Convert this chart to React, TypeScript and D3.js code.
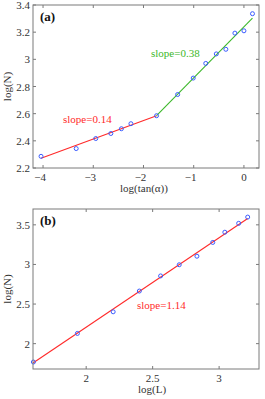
import * as d3 from "d3";

// panel (a): log(tan(alpha)) vs log(N)
const aX = [-4.04, -3.34, -2.95, -2.65, -2.44, -2.25, -1.74, -1.32, -1.01, -0.76, -0.55, -0.36, -0.18, 0.0, 0.17];
const aY = [2.286, 2.343, 2.417, 2.454, 2.489, 2.526, 2.585, 2.741, 2.862, 2.97, 3.04, 3.074, 3.193, 3.21, 3.336];
const aRedFit = [[-4.04, 2.272], [-1.74, 2.585]];
const aGreenFit = [[-1.74, 2.585], [0.17, 3.304]];
const aXTicks = [-4, -3, -2, -1, 0];
const aYTicks = [2.2, 2.4, 2.6, 2.8, 3, 3.2, 3.4];

// panel (b): log(L) vs log(N)
const bX = [1.603, 1.934, 2.203, 2.4, 2.56, 2.7, 2.833, 2.952, 3.043, 3.147, 3.215];
const bY = [1.768, 2.129, 2.402, 2.664, 2.855, 2.996, 3.104, 3.278, 3.407, 3.519, 3.598];
const bFit = [[1.6, 1.755], [3.215, 3.58]];
const bXTicks = [2, 2.5, 3];
const bYTicks = [2, 2.5, 3, 3.5];

const FONT = "'Liberation Serif', 'Times New Roman', serif";
const AXIS = "#7a7a7a";
const TEXT = "#333";
const MARK = "#3a5cff";
const RED = "#ff2a2a";
const GREEN = "#3cb82a";

type PanelProps = {
  top: number;
  bottom: number;
  xDomain: [number, number];
  yDomain: [number, number];
  xTicks: number[];
  yTicks: number[];
  xs: number[];
  ys: number[];
  fits: { pts: number[][]; color: string }[];
  tag: string;
  xLabel: string;
  xLabelX: number;
  notes: { x: number; y: number; text: string; color: string }[];
};

const LEFT = 33;
const RIGHT = 259;

function Panel(p: PanelProps) {
  const x = d3.scaleLinear().domain(p.xDomain).range([LEFT, RIGHT]);
  const y = d3.scaleLinear().domain(p.yDomain).range([p.bottom, p.top]);
  const line = d3.line<number[]>().x(d => x(d[0])).y(d => y(d[1]));
  const tl = 3;
  const fmt = (v: number) => String(v).replace("-", "\u2212");
  return (
    <g>
      {p.fits.map((f, i) => (
        <path key={i} d={line(f.pts) || ""} fill="none" stroke={f.color} strokeWidth={1.1} />
      ))}
      {p.xs.map((v, i) => (
        <circle key={i} cx={x(v)} cy={y(p.ys[i])} r={2} fill="none" stroke={MARK} strokeWidth={1} />
      ))}
      <rect x={LEFT} y={p.top} width={RIGHT - LEFT} height={p.bottom - p.top} fill="none" stroke={AXIS} strokeWidth={1} />
      {p.xTicks.map(t => (
        <g key={"x" + t}>
          <line x1={x(t)} x2={x(t)} y1={p.bottom} y2={p.bottom - tl} stroke={AXIS} />
          <line x1={x(t)} x2={x(t)} y1={p.top} y2={p.top + tl} stroke={AXIS} />
          <text x={x(t) - (t < 0 ? 3 : 0)} y={p.bottom + 13} textAnchor="middle" fontSize={11} fill={TEXT} fontFamily={FONT}>{fmt(t)}</text>
        </g>
      ))}
      {p.yTicks.map(t => (
        <g key={"y" + t}>
          <line x1={LEFT} x2={LEFT + tl} y1={y(t)} y2={y(t)} stroke={AXIS} />
          <line x1={RIGHT} x2={RIGHT - tl} y1={y(t)} y2={y(t)} stroke={AXIS} />
          <text x={LEFT - 3} y={y(t) + 4} textAnchor="end" fontSize={11} fill={TEXT} fontFamily={FONT}>{fmt(t)}</text>
        </g>
      ))}
      <text x={LEFT + 7} y={p.top + 16} fontSize={13} fontWeight="bold" fill="#111" fontFamily={FONT}>{p.tag}</text>
      <text x={p.xLabelX} y={p.bottom + 24} textAnchor="middle" fontSize={11} fill={TEXT} fontFamily={FONT}>{p.xLabel}</text>
      <text transform={`translate(11,${(p.top + p.bottom) / 2}) rotate(-90)`} textAnchor="middle" fontSize={11} fill={TEXT} fontFamily={FONT}>log(N)</text>
      {p.notes.map((n, i) => (
        <text key={i} x={n.x} y={n.y} fontSize={11} fill={n.color} fontFamily={FONT}>{n.text}</text>
      ))}
    </g>
  );
}

export default function App() {
  return (
    <svg width={265} height={399} style={{ position: "absolute", left: 0, top: 0, background: "#fff" }}>
      <Panel
        top={5}
        bottom={168}
        xDomain={[-4.2, 0.3]}
        yDomain={[2.2, 3.4]}
        xTicks={aXTicks}
        yTicks={aYTicks}
        xs={aX}
        ys={aY}
        fits={[{ pts: aRedFit, color: RED }, { pts: aGreenFit, color: GREEN }]}
        tag="(a)"
        xLabel="log(tan(α))"
        xLabelX={144}
        notes={[
          { x: 63, y: 123, text: "slope=0.14", color: RED },
          { x: 151, y: 57, text: "slope=0.38", color: GREEN },
        ]}
      />
      <Panel
        top={209}
        bottom={369}
        xDomain={[1.6, 3.3]}
        yDomain={[1.68, 3.7]}
        xTicks={bXTicks}
        yTicks={bYTicks}
        xs={bX}
        ys={bY}
        fits={[{ pts: bFit, color: RED }]}
        tag="(b)"
        xLabel="log(L)"
        xLabelX={152}
        notes={[{ x: 137, y: 309, text: "slope=1.14", color: RED }]}
      />
    </svg>
  );
}
